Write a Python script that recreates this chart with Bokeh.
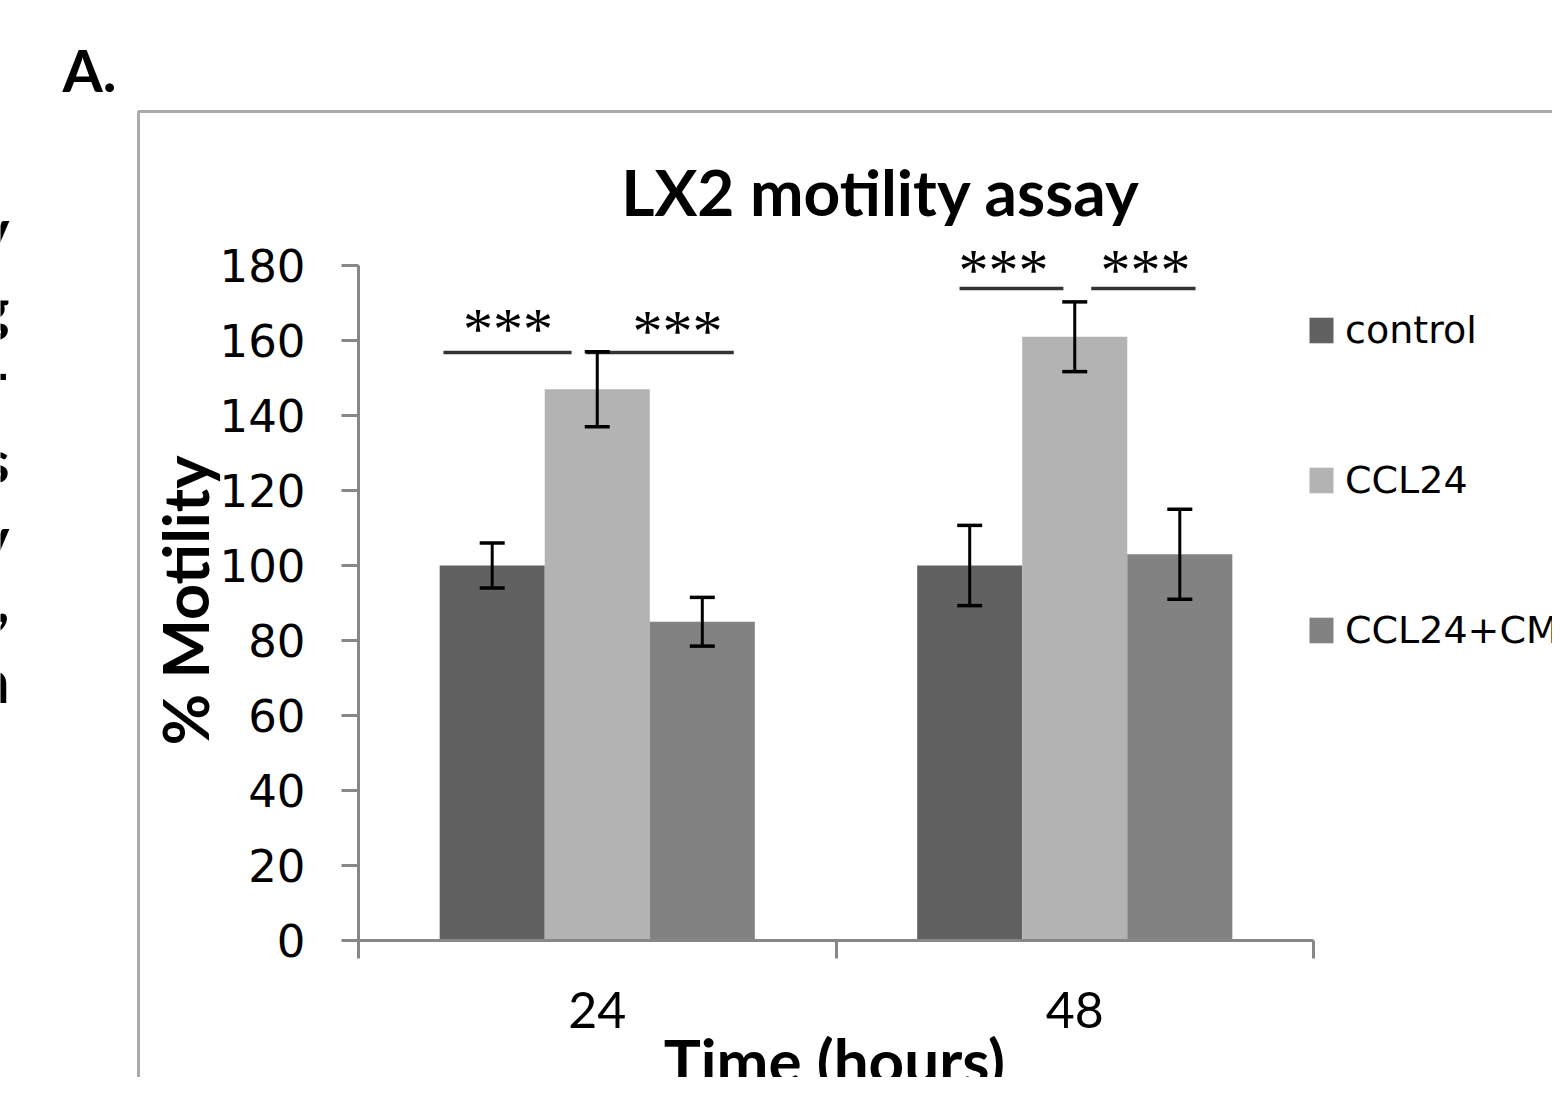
import math
from bokeh.plotting import figure
from bokeh.models import (ColumnDataSource, Range1d, FixedTicker, Whisker, TeeHead,
                          Legend, LegendItem, Label, LabelSet, PolyAnnotation)
from bokeh.embed import file_html
from bokeh.resources import INLINE

# ---------------- data ----------------
hours = [24, 48]
series = ["control", "CCL24", "CCL24+CM1"]
control = [100, 100]
control_err = [6, 10.7]
ccl24 = [147, 161]
ccl24_err = [10, 9.3]
ccl24_cm1 = [85, 103]
ccl24_cm1_err = [6.5, 12]
y_ticks = [0, 20, 40, 60, 80, 100, 120, 140, 160, 180]
category_edges = [12, 36, 60]

# significance brackets (x in hours, y in % motility)
sig_x0 = [16.27, 23.44, 42.21, 48.83]
sig_x1 = [22.71, 30.86, 47.43, 54.07]
sig_y = [156.8, 156.8, 173.9, 173.9]
star_x = [19.51, 28.03, 44.42, 51.56]
star_y = [157.7, 157.1, 173.5, 173.5]
star_text = ["***", "***", "***", "***"]

colors = ["#616161", "#b3b3b3", "#828282"]
GRAY = "#878787"

W, H = 1552, 1077


# helpers converting pixel positions of decorations into data units
def X(px):
    return 12 + (px - 358) * 24 / 477.5


def Y(py):
    return (940 - py) / 3.75


def lato_label(x_px, base_px, text, size, bold=True, angle=0.0, align="left"):
    # Lato labels sit about 0.4 em below the requested baseline; compensate
    shift = 0.4 * size
    if angle:
        x_px -= shift
    else:
        base_px -= shift
    return Label(x=X(x_px), y=Y(base_px), text=text, angle=angle, text_align=align,
                 text_baseline="alphabetic", text_font="Lato",
                 text_font_style="bold" if bold else "normal",
                 text_font_size=f"{size}px", text_color="black")


p = figure(width=W, height=H, x_range=Range1d(X(0), X(W)), y_range=Range1d(Y(H), Y(0)),
           output_backend="svg", toolbar_location=None,
           min_border_left=0, min_border_right=0, min_border_top=0, min_border_bottom=0)
p.title.text = ""
p.outline_line_color = None
p.xgrid.visible = False
p.ygrid.visible = False
p.background_fill_color = "white"
p.border_fill_color = "white"

bar_w = 5.28
offsets = [-5.28, 0.0, 5.28]
values = [control, ccl24, ccl24_cm1]
errors = [control_err, ccl24_err, ccl24_cm1_err]

renderers = []
for name, vals, errs, off, col in zip(series, values, errors, offsets, colors):
    src = ColumnDataSource(dict(
        x=[h + off for h in hours], top=vals,
        upper=[v + e for v, e in zip(vals, errs)],
        lower=[v - e for v, e in zip(vals, errs)]))
    r = p.vbar(x="x", top="top", width=bar_w, bottom=0, source=src,
               fill_color=col, line_color=None)
    renderers.append(r)
    wk = Whisker(base="x", upper="upper", lower="lower", source=src, level="overlay",
                 line_color="black", line_width=3,
                 upper_head=TeeHead(size=25, line_color="black", line_width=3.5),
                 lower_head=TeeHead(size=25, line_color="black", line_width=3.5))
    p.add_layout(wk)

# significance brackets and stars
p.segment(x0=sig_x0, y0=sig_y, x1=sig_x1, y1=sig_y, line_color="#333333", line_width=3.5)
star_src = ColumnDataSource(dict(x=star_x, y=star_y, t=star_text))
p.add_layout(LabelSet(x="x", y="y", text="t", source=star_src, text_align="center",
                      text_baseline="alphabetic", text_font="DejaVu Sans",
                      text_font_size="60px", text_color="black"))

# axes (drawn at fixed data locations, limited to the data extent)
ya = p.yaxis[0]
ya.fixed_location = category_edges[0]
ya.bounds = (y_ticks[0], y_ticks[-1])
ya.ticker = FixedTicker(ticks=y_ticks)
ya.axis_line_color = GRAY
ya.axis_line_width = 3
ya.major_tick_line_color = GRAY
ya.major_tick_line_width = 3
ya.major_tick_out = 17
ya.major_tick_in = 0
ya.minor_tick_line_color = None
ya.major_label_standoff = 36
ya.major_label_text_font = "DejaVu Sans"
ya.major_label_text_font_size = "45px"
ya.major_label_text_color = "black"

xa = p.xaxis[0]
xa.fixed_location = y_ticks[0]
xa.bounds = (category_edges[0], category_edges[-1])
xa.ticker = FixedTicker(ticks=hours, minor_ticks=category_edges)
xa.axis_line_color = GRAY
xa.axis_line_width = 3
xa.major_tick_line_color = None
xa.major_tick_out = 0
xa.major_tick_in = 0
xa.minor_tick_line_color = GRAY
xa.minor_tick_line_width = 3
xa.minor_tick_out = 18
xa.minor_tick_in = 0
xa.major_label_standoff = 33
xa.major_label_text_font = "Lato"
xa.major_label_text_font_size = "50px"
xa.major_label_text_color = "black"

# legend
legend = Legend(items=[LegendItem(label=s, renderers=[r]) for s, r in zip(series, renderers)],
                location=(1306, 425), orientation="vertical",
                glyph_width=30, glyph_height=32, label_standoff=9,
                label_text_font="DejaVu Sans", label_text_font_size="38px",
                label_text_color="black", label_height=44, spacing=106,
                padding=0, margin=0, border_line_color=None,
                background_fill_alpha=0)
p.add_layout(legend)

# outer panel border
p.add_layout(PolyAnnotation(xs=[X(138), X(138), X(1700), X(1700)],
                            ys=[Y(1300), Y(111), Y(111), Y(1300)],
                            fill_color=None, fill_alpha=0,
                            line_color="#ababab", line_alpha=1.0, line_width=3))

# texts
p.add_layout(lato_label(888, 217, "LX2 motility  assay", 64, align="center"))
p.add_layout(lato_label(209, 600, "% Motility", 63, angle=math.pi / 2, align="center"))
p.add_layout(lato_label(834, 1084, "Time (hours)", 62, align="center"))
p.add_layout(lato_label(62, 92, "A.", 58))

# cut-off line endings of a neighbouring caption at the left page edge
edge_chars = ["y", "g", "-", "s", "y", ",", "n"]
edge_base = [252, 330, 397, 483, 560, 624, 703]
for ch, b in zip(edge_chars, edge_base):
    p.add_layout(lato_label(9, b, ch, 60, align="right"))

open("out.html", "w").write(file_html(p, INLINE))
